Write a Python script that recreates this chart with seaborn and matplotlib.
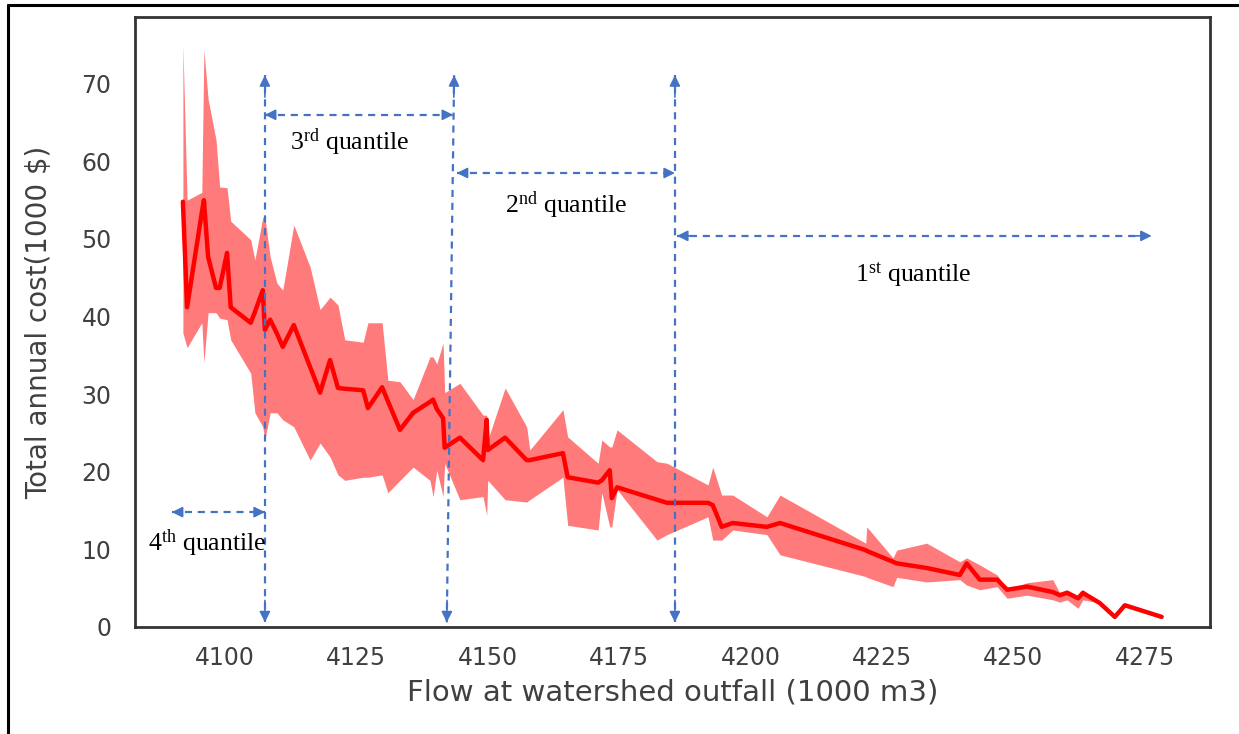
import numpy as np
import pandas as pd
import matplotlib
matplotlib.use('Agg')
import matplotlib.pyplot as plt
import seaborn as sns
from matplotlib.lines import Line2D

# flow at outfall (1000 m3), mean cost and band edges (1000 $)
flow = [4092.0, 4092.8, 4095.6, 4096.0, 4096.8, 4098.3, 4099.0, 4100.4, 4101.1, 4104.9,
        4105.7, 4107.2, 4107.6, 4108.6, 4109.9, 4111.0, 4113.1, 4116.2, 4118.1, 4120.0,
        4121.5, 4122.8, 4126.3, 4127.2, 4129.9, 4131.0, 4133.3, 4135.8, 4139.0, 4139.6,
        4140.3, 4141.5, 4141.8, 4144.7, 4149.1, 4149.8, 4150.0, 4153.3, 4157.4, 4158.0,
        4164.3, 4165.2, 4171.0, 4171.7, 4173.2, 4173.6, 4174.6, 4182.2, 4184.1, 4191.9,
        4192.8, 4194.5, 4196.6, 4203.1, 4205.6, 4221.9, 4222.1, 4227.1, 4227.8, 4233.5,
        4239.8, 4241.1, 4243.6, 4246.9, 4248.8, 4252.6, 4257.5, 4258.8, 4260.2, 4262.3,
        4263.2, 4266.4, 4269.3, 4271.2, 4278.2]
cost = [54.8, 41.2, 53.4, 55.0, 47.7, 43.7, 43.7, 48.2, 41.2, 39.2,
        40.6, 43.4, 38.3, 39.6, 37.8, 36.1, 38.9, 33.5, 30.2, 34.4,
        30.8, 30.7, 30.5, 28.2, 30.9, 29.1, 25.4, 27.6, 29.0, 29.3,
        28.1, 26.9, 23.1, 24.4, 21.5, 26.7, 22.8, 24.4, 21.5, 21.5,
        22.4, 19.3, 18.6, 18.9, 20.2, 16.6, 18.0, 16.4, 16.0, 16.0,
        15.7, 12.9, 13.4, 12.9, 13.4, 9.9, 9.8, 8.4, 8.2, 7.6,
        6.7, 8.2, 6.1, 6.1, 4.8, 5.2, 4.5, 4.1, 4.4, 3.7,
        4.4, 3.1, 1.3, 2.8, 1.3]
cost_hi = [75.0, 55.0, 56.0, 74.4, 68.0, 62.8, 56.7, 56.6, 52.3, 49.9,
           47.3, 52.8, 52.8, 47.7, 44.3, 43.4, 51.8, 46.4, 40.9, 42.5,
           41.5, 37.0, 36.7, 39.2, 39.2, 31.8, 31.6, 29.3, 34.8, 34.8,
           33.9, 36.6, 30.2, 31.4, 27.3, 27.3, 24.1, 30.8, 25.8, 22.8,
           28.0, 24.5, 21.1, 24.1, 23.2, 23.2, 25.4, 21.3, 21.1, 18.3,
           20.6, 17.0, 17.0, 14.2, 17.0, 10.8, 12.9, 8.9, 9.9, 10.8,
           8.4, 8.9, 8.0, 6.7, 4.9, 5.7, 6.1, 4.4, 4.8, 4.0,
           4.8, 3.1, 1.3, 2.8, 1.3]
cost_lo = [37.9, 36.0, 39.2, 34.1, 40.5, 40.5, 39.8, 39.6, 37.0, 32.7,
           27.6, 25.8, 24.1, 27.6, 27.6, 26.7, 25.8, 21.5, 23.7, 21.9,
           19.6, 18.9, 19.3, 19.3, 19.6, 17.3, 18.9, 20.6, 18.9, 16.8,
           20.2, 16.8, 21.1, 16.4, 16.8, 14.4, 18.9, 16.4, 16.1, 16.4,
           19.3, 13.1, 12.5, 17.3, 12.9, 12.9, 17.7, 11.2, 11.9, 14.2,
           11.2, 11.2, 12.5, 11.9, 9.3, 6.5, 6.4, 5.2, 6.4, 5.8,
           6.1, 5.4, 4.8, 5.2, 3.7, 4.1, 3.5, 3.2, 3.5, 2.4,
           3.5, 3.1, 1.3, 2.8, 1.3]

# quantile boundaries and labels
q_bounds = [4107.6, 4143.6, 4185.6]
q_bottom = [4107.6, 4142.2, 4185.6]
q_labels = ['1$^{\\mathrm{st}}$ quantile', '2$^{\\mathrm{nd}}$ quantile',
            '3$^{\\mathrm{rd}}$ quantile', '4$^{\\mathrm{th}}$ quantile']
span_left = [4186.0, 4144.1, 4107.6, 4089.9]
span_right = [4276.3, 4185.6, 4143.4, 4107.6]
span_y = [50.4, 58.5, 66.0, 14.8]
label_x = [4230.9, 4165.0, 4123.8, 4096.6]
label_y = [45.4, 54.4, 62.4, 10.8]

sns.set_style('white')
plt.rcParams['font.family'] = ['DejaVu Sans']
plt.rcParams['mathtext.fontset'] = 'custom'
plt.rcParams['mathtext.rm'] = 'Liberation Serif'
plt.rcParams['mathtext.it'] = 'Liberation Serif:italic'

# long table: min / mean / max per flow so seaborn draws line + band
df = pd.concat([
    pd.DataFrame({'flow': flow, 'cost': cost_lo}),
    pd.DataFrame({'flow': flow, 'cost': cost}),
    pd.DataFrame({'flow': flow, 'cost': cost_hi}),
])

fig = plt.figure(figsize=(12.39, 7.34), dpi=100)
ax = fig.add_axes([0.109, 0.1458, 0.8676, 0.831])

sns.lineplot(data=df, x='flow', y='cost', estimator='median', errorbar=('pi', 100),
             color='#ff0000', linewidth=3.2, err_kws={'alpha': 0.52, 'linewidth': 0}, ax=ax)

ax.set_xlim(4082.9, 4287.4)
ax.set_ylim(0, 78.6)
ax.set_xticks(np.arange(4100, 4276, 25))
ax.set_yticks(np.arange(0, 71, 10))
ax.tick_params(length=0, labelsize=17, labelcolor='#404040')
ax.tick_params(axis='y', pad=17)
ax.tick_params(axis='x', pad=14)
for s in ax.spines.values():
    s.set_color('#333333')
    s.set_linewidth(2)

ax.set_xlabel('Flow at watershed outfall (1000 m3)', fontsize=21, color='#404040')
ax.set_ylabel('Total annual cost(1000 $)', fontsize=20, color='#404040')
ax.xaxis.set_label_coords(0.5, -0.085)
ax.yaxis.set_label_coords(-0.076, 0.5)

blue = '#4472C4'
dash = (0, (3.2, 2.6))


def dashed_arrow(x0, y0, x1, y1):
    # dashed shaft with solid heads on both ends
    ax.plot([x0, x1], [y0, y1], color=blue, lw=1.6, ls=dash, clip_on=False)
    for (xa, ya), (xb, yb) in [((x0, y0), (x1, y1)), ((x1, y1), (x0, y0))]:
        xs = xb - (xb - xa) * 0.04
        ys = yb - (yb - ya) * 0.04
        ax.annotate('', xy=(xb, yb), xytext=(xs, ys),
                    arrowprops=dict(arrowstyle='-|>', color=blue, lw=1.2,
                                    mutation_scale=16, shrinkA=0, shrinkB=0))


for xt, xb in zip(q_bounds, q_bottom):
    dashed_arrow(xb, 0.6, xt, 71.1)

for xl, xr, yy in zip(span_left, span_right, span_y):
    dashed_arrow(xl, yy, xr, yy)

for lab, tx, ty in zip(q_labels, label_x, label_y):
    ax.text(tx, ty, lab, ha='center', va='center', fontsize=18.5,
            family='Liberation Serif', color='black')

# outer frame of the screenshot
fig.add_artist(Line2D([8 / 1239, 1], [1 - 5 / 734] * 2, transform=fig.transFigure,
                      color='black', lw=2.2))
fig.add_artist(Line2D([8 / 1239] * 2, [0, 1 - 5 / 734], transform=fig.transFigure,
                      color='black', lw=2.2))

fig.savefig('out.png', dpi=100)
